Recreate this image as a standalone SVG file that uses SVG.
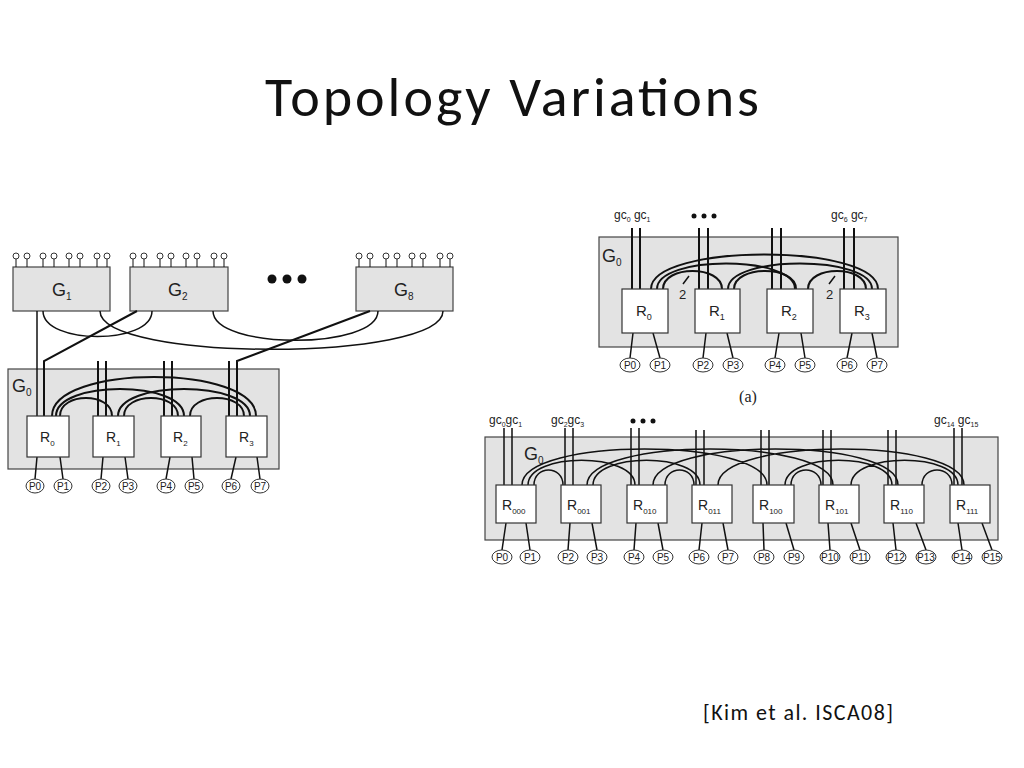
<svg xmlns="http://www.w3.org/2000/svg" width="1024" height="768" viewBox="0 0 1024 768">
<style>
.g{fill:#e3e3e3;stroke:#444;stroke-width:1.2}
.r{fill:#fff;stroke:#333;stroke-width:1.2}
.w{fill:none;stroke:#111;stroke-width:2}
.t{fill:none;stroke:#111;stroke-width:1.5}
.p{fill:#fff;stroke:#333;stroke-width:1}
.s{font-family:"Liberation Sans",Arial,sans-serif;fill:#222}
.pl{font-family:"Liberation Sans",Arial,sans-serif;font-size:10px;fill:#222;text-anchor:middle}
.pin{fill:#fff;stroke:#333;stroke-width:1}
</style>
<text x="512" y="116" text-anchor="middle" font-family="Carlito,'Open Sans','Liberation Sans',sans-serif" font-size="56" fill="#111" textLength="494">Topology Variations</text>
<text x="798" y="720" text-anchor="middle" font-family="Carlito,'Open Sans','Liberation Sans',sans-serif" font-size="22" fill="#111" textLength="190">[Kim et al. ISCA08]</text>

<!-- LEFT DIAGRAM -->
<g id="left-G1"><rect class="g" x="13" y="267" width="97" height="44"/><text class="s" x="52" y="296" font-size="18">G<tspan font-size="10" dy="4">1</tspan></text></g>
<g id="left-G2"><rect class="g" x="130" y="267" width="98" height="44"/><text class="s" x="168" y="296" font-size="18">G<tspan font-size="10" dy="4">2</tspan></text></g>
<g id="left-G8"><rect class="g" x="356" y="267" width="97" height="44"/><text class="s" x="394" y="296" font-size="18">G<tspan font-size="10" dy="4">8</tspan></text></g>
<g id="left-pins" class="t">
<path d="M16 259V267M27 259V267M43 259V267M54 259V267M69 259V267M80 259V267M97 259V267M107 259V267" stroke-width="1"/>
<path d="M133 259V267M144 259V267M160 259V267M171 259V267M186 259V267M197 259V267M214 259V267M224 259V267" stroke-width="1"/>
<path d="M359 259V267M370 259V267M386 259V267M397 259V267M412 259V267M423 259V267M440 259V267M450 259V267" stroke-width="1"/>
</g>
<g id="left-pinheads" class="pin">
<circle cx="16" cy="256" r="3"/><circle cx="27" cy="256" r="3"/><circle cx="43" cy="256" r="3"/><circle cx="54" cy="256" r="3"/><circle cx="69" cy="256" r="3"/><circle cx="80" cy="256" r="3"/><circle cx="97" cy="256" r="3"/><circle cx="107" cy="256" r="3"/>
<circle cx="133" cy="256" r="3"/><circle cx="144" cy="256" r="3"/><circle cx="160" cy="256" r="3"/><circle cx="171" cy="256" r="3"/><circle cx="186" cy="256" r="3"/><circle cx="197" cy="256" r="3"/><circle cx="214" cy="256" r="3"/><circle cx="224" cy="256" r="3"/>
<circle cx="359" cy="256" r="3"/><circle cx="370" cy="256" r="3"/><circle cx="386" cy="256" r="3"/><circle cx="397" cy="256" r="3"/><circle cx="412" cy="256" r="3"/><circle cx="423" cy="256" r="3"/><circle cx="440" cy="256" r="3"/><circle cx="450" cy="256" r="3"/>
</g>
<g id="left-dots" fill="#111"><circle cx="272" cy="279" r="4.5"/><circle cx="287" cy="279" r="4.5"/><circle cx="302" cy="279" r="4.5"/></g>
<g id="left-G0"><rect class="g" x="8" y="369" width="271" height="100"/><text class="s" x="12" y="392" font-size="18">G<tspan font-size="10" dy="4">0</tspan></text></g>
<g id="left-connectors">
<path class="t" d="M43 311C43 345 152 345 152 311"/>
<path class="t" d="M100 311C100 362 443 362 443 311"/>
<path class="t" d="M213 311C213 350 378 350 378 311"/>
<path class="t" d="M37 311V416"/>
<path class="w" d="M44 416V361L137 311"/>
<path class="w" d="M229 416V361M237 416V361L370 311"/>
<path class="w" d="M98 416V361M106 416V361M164 416V361M172 416V361"/>
<path class="w" d="M60 416C60 392 112 392 112 416"/>
<path class="w" d="M124 416C124 392 178 392 178 416"/>
<path class="w" d="M190 416C190 392 244 392 244 416"/>
<path class="w" d="M56 416C56 380 184 380 184 416"/>
<path class="w" d="M118 416C118 380 250 380 250 416"/>
<path class="w" d="M52 416C52 364 256 364 256 416"/>
<path class="t" d="M37 457L35 479M60 457L63 479M103 457L101 479M125 457L128 479M170 457L166 479M192 457L194 479M236 457L231 479M257 457L260 479"/>
</g>
<g id="left-R0"><rect class="r" x="27" y="416" width="42" height="41"/><text class="s" x="40" y="442" font-size="14">R<tspan font-size="8" dy="4">0</tspan></text></g>
<g id="left-R1"><rect class="r" x="93" y="416" width="41" height="41"/><text class="s" x="106" y="442" font-size="14">R<tspan font-size="8" dy="4">1</tspan></text></g>
<g id="left-R2"><rect class="r" x="161" y="416" width="40" height="41"/><text class="s" x="173" y="442" font-size="14">R<tspan font-size="8" dy="4">2</tspan></text></g>
<g id="left-R3"><rect class="r" x="226" y="416" width="41" height="41"/><text class="s" x="239" y="442" font-size="14">R<tspan font-size="8" dy="4">3</tspan></text></g>
<g id="left-P">
<ellipse class="p" cx="35" cy="486" rx="9" ry="7"/><text class="pl" x="35" y="490">P0</text>
<ellipse class="p" cx="63" cy="486" rx="9" ry="7"/><text class="pl" x="63" y="490">P1</text>
<ellipse class="p" cx="101" cy="486" rx="9" ry="7"/><text class="pl" x="101" y="490">P2</text>
<ellipse class="p" cx="128" cy="486" rx="9" ry="7"/><text class="pl" x="128" y="490">P3</text>
<ellipse class="p" cx="166" cy="486" rx="9" ry="7"/><text class="pl" x="166" y="490">P4</text>
<ellipse class="p" cx="194" cy="486" rx="9" ry="7"/><text class="pl" x="194" y="490">P5</text>
<ellipse class="p" cx="231" cy="486" rx="9" ry="7"/><text class="pl" x="231" y="490">P6</text>
<ellipse class="p" cx="260" cy="486" rx="9" ry="7"/><text class="pl" x="260" y="490">P7</text>
</g>

<!-- TOP RIGHT (a) -->
<g id="a-G0"><rect class="g" x="599" y="237" width="299" height="110"/><text class="s" x="602" y="262" font-size="18">G<tspan font-size="10" dy="4">0</tspan></text></g>
<g id="a-labels" class="s" font-size="12">
<text x="614" y="219">gc<tspan font-size="7" dy="3">0</tspan><tspan dy="-3"> gc</tspan><tspan font-size="7" dy="3">1</tspan></text>
<text x="831" y="219">gc<tspan font-size="7" dy="3">6</tspan><tspan dy="-3"> gc</tspan><tspan font-size="7" dy="3">7</tspan></text>
</g>
<g id="a-dots" fill="#111"><circle cx="694" cy="216" r="2.5"/><circle cx="704" cy="216" r="2.5"/><circle cx="714" cy="216" r="2.5"/></g>
<g id="a-connectors">
<path class="w" d="M632 289V228M640 289V228M699 289V228M708 289V228M772 289V228M781 289V228M844 289V228M854 289V228" stroke-width="2.5"/>
<path class="w" d="M663 289C663 265 722 265 722 289"/>
<path class="w" d="M734 289C734 265 796 265 796 289"/>
<path class="w" d="M808 289C808 265 866 265 866 289"/>
<path class="w" d="M657 289C657 255 795 255 795 289"/>
<path class="w" d="M728 289C728 255 872 255 872 289"/>
<path class="w" d="M651 289C651 243 878 243 878 289"/>
<path class="t" d="M683 284L689 276M829 284L835 276" stroke-width="1.2"/>
<path class="t" d="M633 333L630 358M653 333L660 358M706 333L703 358M727 333L733 358M779 333L775 358M801 333L805 358M852 333L847 358M872 333L877 358"/>
</g>
<text class="s" x="679" y="299" font-size="13">2</text>
<text class="s" x="826" y="299" font-size="13">2</text>
<g id="a-R0"><rect class="r" x="622" y="289" width="46" height="44"/><text class="s" x="636" y="316" font-size="15">R<tspan font-size="9" dy="4">0</tspan></text></g>
<g id="a-R1"><rect class="r" x="695" y="289" width="45" height="44"/><text class="s" x="709" y="316" font-size="15">R<tspan font-size="9" dy="4">1</tspan></text></g>
<g id="a-R2"><rect class="r" x="767" y="289" width="46" height="44"/><text class="s" x="781" y="316" font-size="15">R<tspan font-size="9" dy="4">2</tspan></text></g>
<g id="a-R3"><rect class="r" x="840" y="289" width="46" height="44"/><text class="s" x="854" y="316" font-size="15">R<tspan font-size="9" dy="4">3</tspan></text></g>
<g id="a-P">
<ellipse class="p" cx="630" cy="365" rx="10" ry="7"/><text class="pl" x="630" y="369">P0</text>
<ellipse class="p" cx="660" cy="365" rx="10" ry="7"/><text class="pl" x="660" y="369">P1</text>
<ellipse class="p" cx="703" cy="365" rx="10" ry="7"/><text class="pl" x="703" y="369">P2</text>
<ellipse class="p" cx="733" cy="365" rx="10" ry="7"/><text class="pl" x="733" y="369">P3</text>
<ellipse class="p" cx="775" cy="365" rx="10" ry="7"/><text class="pl" x="775" y="369">P4</text>
<ellipse class="p" cx="805" cy="365" rx="10" ry="7"/><text class="pl" x="805" y="369">P5</text>
<ellipse class="p" cx="847" cy="365" rx="10" ry="7"/><text class="pl" x="847" y="369">P6</text>
<ellipse class="p" cx="877" cy="365" rx="10" ry="7"/><text class="pl" x="877" y="369">P7</text>
</g>
<text x="748" y="402" text-anchor="middle" font-family="'Liberation Serif',serif" font-size="16" fill="#222">(a)</text>

<!-- BOTTOM RIGHT -->
<g id="b-G0"><rect class="g" x="485" y="437" width="513" height="103"/><text class="s" x="524" y="460" font-size="18">G<tspan font-size="10" dy="4">0</tspan></text></g>
<g id="b-labels" class="s" font-size="12">
<text x="489" y="424">gc<tspan font-size="7" dy="3">0</tspan><tspan dy="-3">gc</tspan><tspan font-size="7" dy="3">1</tspan></text>
<text x="551" y="424">gc<tspan font-size="7" dy="3">2</tspan><tspan dy="-3">gc</tspan><tspan font-size="7" dy="3">3</tspan></text>
<text x="934" y="424">gc<tspan font-size="7" dy="3">14</tspan><tspan dy="-3"> gc</tspan><tspan font-size="7" dy="3">15</tspan></text>
</g>
<g id="b-dots" fill="#111"><circle cx="633" cy="421" r="2.5"/><circle cx="643" cy="421" r="2.5"/><circle cx="653" cy="421" r="2.5"/></g>
<g id="b-connectors">
<path class="t" d="M504 485V428M512 485V428M565 485V428M573 485V428M631 485V428M639 485V428M696 485V430M704 485V430M761 485V430M769 485V430M823 485V430M831 485V430M888 485V430M896 485V430M954 485V428M962 485V428"/>
<path class="t" d="M534 485C534 465 563 465 563 485M665 485C665 465 694 465 694 485M791 485C791 465 821 465 821 485M922 485C922 465 952 465 952 485"/>
<path class="t" d="M528 485C528 452 635 452 635 485M593 485C593 452 700 452 700 485M785 485C785 452 892 452 892 485M851 485C851 452 958 452 958 485"/>
<path class="t" d="M522 485C522 437 767 437 767 485M587 485C587 437 833 437 833 485M653 485C653 437 898 437 898 485M718 485C718 437 964 437 964 485"/>
<path class="t" d="M506 523L502 550M526 523L530 550M570 523L568 550M592 523L597 550M636 523L634 550M658 523L663 550M702 523L699 550M723 523L728 550M763 523L764 550M786 523L794 550M828 523L830 550M851 523L860 550M893 523L896 550M916 523L926 550M958 523L962 550M982 523L992 550"/>
</g>
<g id="b-R000"><rect class="r" x="496" y="485" width="40" height="38"/><text class="s" x="502" y="510" font-size="14">R<tspan font-size="8" dy="4">000</tspan></text></g>
<g id="b-R001"><rect class="r" x="561" y="485" width="40" height="38"/><text class="s" x="567" y="510" font-size="14">R<tspan font-size="8" dy="4">001</tspan></text></g>
<g id="b-R010"><rect class="r" x="627" y="485" width="40" height="38"/><text class="s" x="633" y="510" font-size="14">R<tspan font-size="8" dy="4">010</tspan></text></g>
<g id="b-R011"><rect class="r" x="692" y="485" width="40" height="38"/><text class="s" x="698" y="510" font-size="14">R<tspan font-size="8" dy="4">011</tspan></text></g>
<g id="b-R100"><rect class="r" x="753" y="485" width="41" height="38"/><text class="s" x="759" y="510" font-size="14">R<tspan font-size="8" dy="4">100</tspan></text></g>
<g id="b-R101"><rect class="r" x="819" y="485" width="40" height="38"/><text class="s" x="825" y="510" font-size="14">R<tspan font-size="8" dy="4">101</tspan></text></g>
<g id="b-R110"><rect class="r" x="884" y="485" width="40" height="38"/><text class="s" x="890" y="510" font-size="14">R<tspan font-size="8" dy="4">110</tspan></text></g>
<g id="b-R111"><rect class="r" x="950" y="485" width="40" height="38"/><text class="s" x="956" y="510" font-size="14">R<tspan font-size="8" dy="4">111</tspan></text></g>
<g id="b-P">
<ellipse class="p" cx="502" cy="557" rx="10" ry="7"/><text class="pl" x="502" y="561">P0</text>
<ellipse class="p" cx="530" cy="557" rx="10" ry="7"/><text class="pl" x="530" y="561">P1</text>
<ellipse class="p" cx="568" cy="557" rx="10" ry="7"/><text class="pl" x="568" y="561">P2</text>
<ellipse class="p" cx="597" cy="557" rx="10" ry="7"/><text class="pl" x="597" y="561">P3</text>
<ellipse class="p" cx="634" cy="557" rx="10" ry="7"/><text class="pl" x="634" y="561">P4</text>
<ellipse class="p" cx="663" cy="557" rx="10" ry="7"/><text class="pl" x="663" y="561">P5</text>
<ellipse class="p" cx="699" cy="557" rx="10" ry="7"/><text class="pl" x="699" y="561">P6</text>
<ellipse class="p" cx="728" cy="557" rx="10" ry="7"/><text class="pl" x="728" y="561">P7</text>
<ellipse class="p" cx="764" cy="557" rx="10" ry="7"/><text class="pl" x="764" y="561">P8</text>
<ellipse class="p" cx="794" cy="557" rx="10" ry="7"/><text class="pl" x="794" y="561">P9</text>
<ellipse class="p" cx="830" cy="557" rx="10" ry="7"/><text class="pl" x="830" y="561">P10</text>
<ellipse class="p" cx="860" cy="557" rx="10" ry="7"/><text class="pl" x="860" y="561">P11</text>
<ellipse class="p" cx="896" cy="557" rx="10" ry="7"/><text class="pl" x="896" y="561">P12</text>
<ellipse class="p" cx="926" cy="557" rx="10" ry="7"/><text class="pl" x="926" y="561">P13</text>
<ellipse class="p" cx="962" cy="557" rx="10" ry="7"/><text class="pl" x="962" y="561">P14</text>
<ellipse class="p" cx="992" cy="557" rx="10" ry="7"/><text class="pl" x="992" y="561">P15</text>
</g>
</svg>
